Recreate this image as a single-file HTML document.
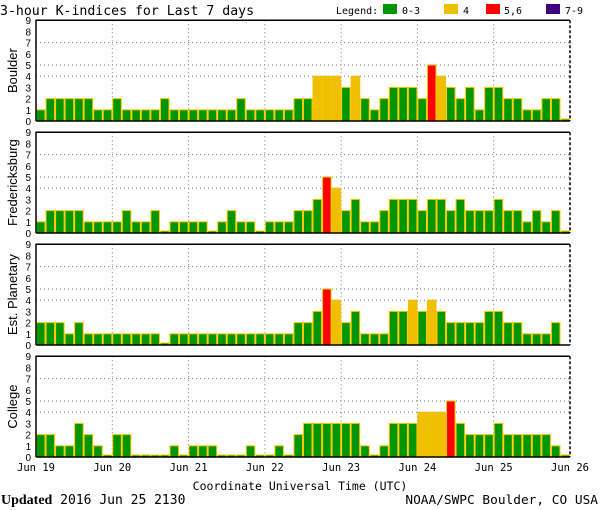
<!DOCTYPE html>
<html><head><meta charset="utf-8"><style>
body{margin:0;background:#fff;}
svg{display:block;font-family:"Liberation Sans",sans-serif;}
.m{font-family:"DejaVu Sans Mono","Liberation Mono",monospace;}
</style></head><body>
<svg id="c" width="600" height="510" viewBox="0 0 600 510">
<text class="m" x="0" y="15" font-size="13.2">3-hour K-indices for Last 7 days</text>
<g font-size="10" class="m">
<text x="336" y="14">Legend:</text>
<rect x="383" y="4" width="14" height="10" fill="#009600"/>
<text x="402" y="14">0-3</text>
<rect x="444" y="4" width="14" height="10" fill="#f0c000"/>
<text x="463" y="14">4</text>
<rect x="486" y="4" width="14" height="10" fill="#ff0000"/>
<text x="504" y="14">5,6</text>
<rect x="546" y="4" width="14" height="10" fill="#400080"/>
<text x="565" y="14">7-9</text>
</g>
<g id="panels"></g>
<text class="m" x="300" y="490" font-size="11.5" text-anchor="middle">Coordinate Universal Time (UTC)</text>
<text class="m" x="1" y="504" font-size="13"><tspan font-family="Liberation Serif,serif" font-weight="bold" font-size="14">Updated</tspan> 2016 Jun 25 2130</text>
<text class="m" x="598" y="504" font-size="12.8" text-anchor="end">NOAA/SWPC Boulder, CO USA</text>
</svg>
<script>
const panelNames = ["Boulder","Fredericksburg","Est. Planetary","College"];
const dayLabels = ["Jun 19","Jun 20","Jun 21","Jun 22","Jun 23","Jun 24","Jun 25","Jun 26"];
const yTicks = [0,1,2,3,4,5,6,7,8,9];
const boulder = [1,2,2,2,2,2,1,1,2,1,1,1,1,2,1,1,1,1,1,1,1,2,1,1,1,1,1,2,2,4,4,4,3,4,2,1,2,3,3,3,2,5,4,3,2,3,1,3,3,2,2,1,1,2,2,0];
const fredericksburg = [1,2,2,2,2,1,1,1,1,2,1,1,2,0,1,1,1,1,0,1,2,1,1,0,1,1,1,2,2,3,5,4,2,3,1,1,2,3,3,3,2,3,3,2,3,2,2,2,3,2,2,1,2,1,2,0];
const planetary = [2,2,2,1,2,1,1,1,1,1,1,1,1,0,1,1,1,1,1,1,1,1,1,1,1,1,1,2,2,3,5,4,2,3,1,1,1,3,3,4,3,4,3,2,2,2,2,3,3,2,2,1,1,1,2,null];
const college = [2,2,1,1,3,2,1,0,2,2,0,0,0,0,1,0,1,1,1,0,0,0,1,0,0,1,0,2,3,3,3,3,3,3,1,0,1,3,3,3,4,4,4,5,3,2,2,2,3,2,2,2,2,2,1,0];
const series = [boulder,fredericksburg,planetary,college];

const NS="http://www.w3.org/2000/svg";
const X0=36,X1=570,UNIT=11.2,N=56;
const xs=i=>X0+(X1-X0)*i/N;
const xd=d=>X0+(X1-X0)*d/7;
function mk(tag,attrs,parent){const e=document.createElementNS(NS,tag);for(const k in attrs)e.setAttribute(k,attrs[k]);parent.appendChild(e);return e;}
function color(v){return v>=7?"#400080":v>=5?"#ff0000":v>=4?"#f0c000":"#009600";}
const root=document.getElementById("panels");
series.forEach((vals,p)=>{
  const base=121+112*p;
  const ys=v=>base-v*UNIT;
  const g=mk("g",{},root);
  
  
  const lab=mk("text",{transform:`translate(17,${ys(4.5)}) rotate(-90)`,"text-anchor":"middle","font-size":"13"},g);
  lab.textContent=panelNames[p];
  
  
  yTicks.forEach(t=>{
    const tx=mk("text",{x:31,y:ys(t)+4,"text-anchor":"end","font-size":"10"},g);
    tx.textContent=t;
    
    
  });
  [4,5,7].forEach(t=>{
    const l=mk("line",{x1:X0,x2:X1,y1:ys(t),y2:ys(t),stroke:"#777","stroke-dasharray":"1,3"},g);
    
    
  });
  for(let d=1;d<7;d++){
    const l=mk("line",{x1:xd(d),x2:xd(d),y1:ys(9),y2:base,stroke:"#777","stroke-dasharray":"1,3"},g);
    
    
  }
  vals.forEach((v,i)=>{
    if(v===null)return;
    const h=v===0?2:v*UNIT;
    const r=mk("rect",{x:xs(i)+0.5,y:base-h,width:(X1-X0)/N-1,height:h,fill:color(v),stroke:v===4?"#f0c000":"#ffc800","stroke-width":"1"},g);
    
    
  });
  const ax=mk("path",{d:`M${X0},${base} V${ys(9)} H${X1} M${X0},${base} H${X1}`,stroke:"#000","stroke-width":"1.5",fill:"none"},g);
  
  
  const rx=mk("line",{x1:X1,x2:X1,y1:ys(9),y2:base,stroke:"#000","stroke-width":"1.5","stroke-dasharray":"3,2"},g);
  
  
});
dayLabels.forEach((d,k)=>{
  const t=mk("text",{x:xd(k),y:471,"text-anchor":"middle","font-size":"10.5","class":"m"},document.getElementById("c"));
  t.textContent=d;
  
  
});
</script>
</body></html>
